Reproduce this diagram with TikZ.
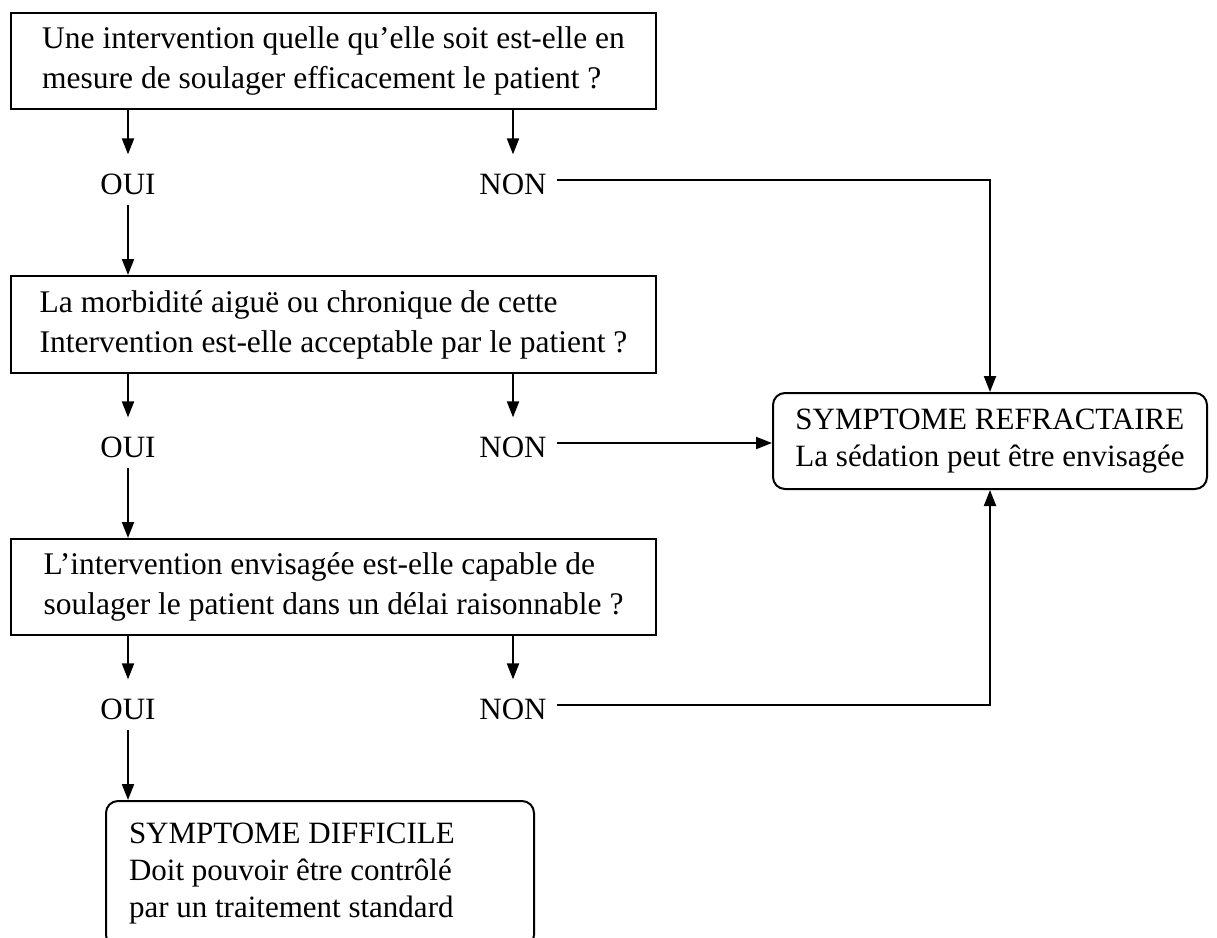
\documentclass[tikz,border=0pt]{standalone}
\usepackage{fontspec}
\setmainfont{Liberation Serif}
\usetikzlibrary{arrows.meta}
\usetikzlibrary{positioning}

\begin{document}
\begin{tikzpicture}[x=1pt, y=-1pt,
    qbox/.style={rectangle, draw=black, line width=2pt, minimum width=645pt, anchor=north west, align=left, font=\fontsize{31.5}{40}\selectfont},
    rbox/.style={rectangle, rounded corners=12pt, draw=black, line width=2pt, align=left, font=\fontsize{31}{37}\selectfont},
    ans/.style={inner sep=4pt, font=\fontsize{31}{34}\selectfont},
    arr/.style={-{Triangle[length=16pt, width=12pt]}, line width=2pt}]
            \useasboundingbox (0,0) rectangle (1217,937);
            % questions
            \node[qbox, minimum height=96pt] (q1) at (10,12)
                {Une intervention quelle qu’elle soit est-elle en\\mesure de soulager efficacement le patient ?};
            \node[qbox, minimum height=97pt] (q2) at (10,275)
                {La morbidité aiguë ou chronique de cette\\Intervention est-elle acceptable par le patient ?};
            \node[qbox, minimum height=96pt] (q3) at (10,538)
                {L’intervention envisagée est-elle capable de\\soulager le patient dans un délai raisonnable ?};
            % outcomes
            \node[rbox, minimum width=434pt, minimum height=96pt] (refr) at (990,441)
                {SYMPTOME REFRACTAIRE\\La sédation peut être envisagée};
            \node[rbox, minimum width=428pt, minimum height=146pt, text width=382pt, inner xsep=23pt, anchor=north west] (diff) at (105,800)
                {\spaceskip=0pt\relax SYMPTOME DIFFICILE\\Doit pouvoir être contrôlé\\par un traitement standard};
            \def\R{184, 447, 709}
            \foreach \y[count=\i from 1] in \R
            {
                \node[ans] (oui\i) at (128,\y) {OUI};
                \node[ans] (non\i) at (513,\y) {NON};
                \draw[arr, shorten >=15pt] (q\i.south -| oui\i) -- (oui\i.north);
                \draw[arr, shorten >=15pt] (q\i.south -| non\i) -- (non\i.north);
            }
            \draw[arr, shorten <=6pt] (oui1.south) -- (q2.north -| oui1);
            \draw[arr, shorten <=6pt] (oui2.south) -- (q3.north -| oui2);
            \draw[arr, shorten <=6pt] (oui3.south) -- (diff.north -| oui3);
            \draw[arr, shorten <=6pt] ([yshift=4pt]non1.east) -| (refr.north);
            \draw[arr, shorten <=6pt] ([yshift=4pt]non2.east) -- ([yshift=4pt]non2 -| refr.west);
            \draw[arr, shorten <=6pt] ([yshift=4pt]non3.east) -| (refr.south);
        \end{tikzpicture}
\end{document}
